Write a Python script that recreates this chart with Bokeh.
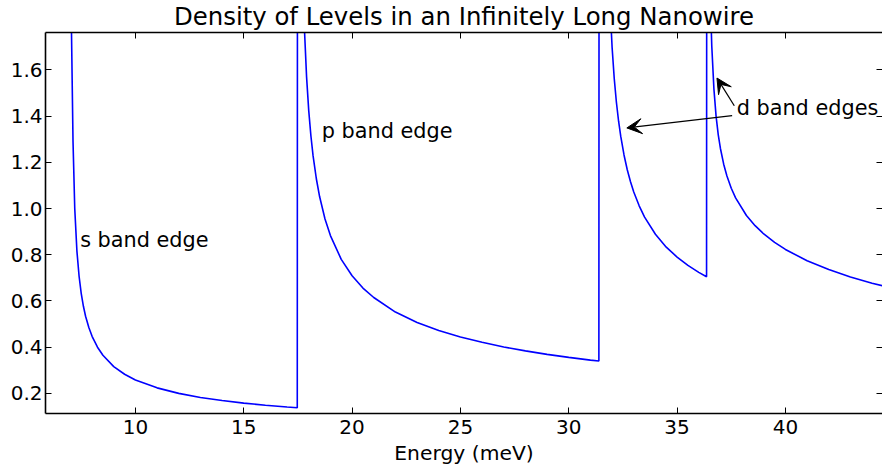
from bokeh.plotting import figure
from bokeh.models import Range1d, LinearAxis, FixedTicker, Label, Arrow, VeeHead, ColumnDataSource
from bokeh.embed import file_html
from bokeh.resources import INLINE

# ---- data ----
energy_mev = [
    7.00, 7.12, 7.20, 7.30, 7.40, 7.50, 7.60, 7.70, 7.85, 8.00, 8.25, 8.50, 9.00, 9.50,
    10.0, 11.0, 12.0, 13.0, 14.0, 15.0, 16.0, 17.0, 17.47,
    17.49, 17.70, 17.80, 17.90, 18.00, 18.10, 18.20, 18.35, 18.50, 18.75, 19.0, 19.5,
    20.0, 20.5, 21.0, 22.0, 23.0, 24.0, 25.0, 26.0, 27.0, 28.0, 29.0, 30.0, 31.0, 31.39,
    31.41, 31.85, 31.90, 32.00, 32.10, 32.20, 32.30, 32.40, 32.55, 32.70, 32.85, 33.00,
    33.25, 33.50, 34.0, 34.5, 35.0, 35.5, 36.0, 36.36,
    36.38, 36.50, 36.55, 36.60, 36.70, 36.80, 36.90, 37.00, 37.15, 37.30, 37.50, 37.70,
    38.2, 38.6, 39.0, 39.5, 40.0, 41.0, 42.0, 43.0, 44.0, 44.6,
]
density = [
    2.10, 1.29, 1.00, 0.816, 0.707, 0.632, 0.577, 0.534, 0.485, 0.447, 0.400, 0.365, 0.316, 0.283,
    0.258, 0.224, 0.200, 0.182, 0.169, 0.158, 0.149, 0.141, 0.138,
    5.00, 2.118, 1.778, 1.569, 1.423, 1.314, 1.228, 1.129, 1.052, 0.955, 0.883, 0.780,
    0.709, 0.656, 0.615, 0.552, 0.507, 0.472, 0.444, 0.421, 0.401, 0.384, 0.369, 0.356, 0.344, 0.340,
    5.00, 2.026, 1.892, 1.698, 1.562, 1.459, 1.378, 1.312, 1.232, 1.168, 1.116, 1.072,
    1.012, 0.963, 0.889, 0.833, 0.790, 0.754, 0.724, 0.705,
    5.00, 2.126, 1.862, 1.705, 1.517, 1.399, 1.319, 1.260, 1.192, 1.141, 1.088, 1.046,
    0.970, 0.926, 0.890, 0.854, 0.823, 0.774, 0.736, 0.704, 0.677, 0.663,
]

x_ticks = [10, 15, 20, 25, 30, 35, 40]
x_tick_labels = ["10", "15", "20", "25", "30", "35", "40"]
y_ticks = [0.2, 0.4, 0.6, 0.8, 1.0, 1.2, 1.4, 1.6]
y_tick_labels = ["0.2", "0.4", "0.6", "0.8", "1.0", "1.2", "1.4", "1.6"]

title_text = "Density of Levels in an Infinitely Long Nanowire"
x_label = "Energy (meV)"

notes = ["s band edge", "p band edge", "d band edges"]
note_x = [7.45, 18.6, 37.75]
note_y = [0.865, 1.335, 1.437]

arrow_from = [(37.54, 1.402), (37.64, 1.445)]
arrow_to = [(32.68, 1.349), (36.84, 1.565)]

FONT = "DejaVu Sans"

p = figure(width=882, height=474, output_backend="svg", toolbar_location=None,
           x_range=Range1d(5.85, 44.48), y_range=Range1d(0.113, 1.762),
           x_axis_location=None, y_axis_location=None,
           min_border_left=45, min_border_right=0, min_border_top=32, min_border_bottom=61)
p.outline_line_color = None
p.grid.visible = False
p.background_fill_color = "white"
p.border_fill_color = "white"

p.title.text = title_text
p.title.text_font = FONT
p.title.text_font_size = "24.4px"
p.title.text_font_style = "normal"
p.title.text_color = "black"
p.title.align = "center"
p.title.vertical_align = "top"
p.title.standoff = 0

bottom_axis = LinearAxis()
left_axis = LinearAxis()
top_axis = LinearAxis()
right_axis = LinearAxis()
p.add_layout(bottom_axis, "below")
p.add_layout(left_axis, "left")
p.add_layout(top_axis, "above")
p.add_layout(right_axis, "right")

xt = dict(zip(x_ticks, x_tick_labels))
yt = dict(zip(y_ticks, y_tick_labels))

for ax in [bottom_axis, top_axis]:
    ax.ticker = FixedTicker(ticks=x_ticks)
    ax.major_label_overrides = xt
for ax in [left_axis, right_axis]:
    ax.ticker = FixedTicker(ticks=y_ticks)
    ax.major_label_overrides = yt

for ax in [bottom_axis, left_axis, top_axis, right_axis]:
    ax.major_tick_in = 6
    ax.major_tick_out = 0
    ax.minor_tick_in = 0
    ax.minor_tick_out = 0
    ax.major_tick_line_width = 1
    ax.major_tick_line_color = "black"
    ax.axis_line_color = "black"
    ax.axis_line_width = 1.6
    ax.major_label_text_font = FONT
    ax.major_label_text_font_size = "20px"
    ax.major_label_text_color = "black"

top_axis.major_label_overrides = {t: "" for t in x_ticks}
right_axis.major_label_overrides = {t: "" for t in y_ticks}
top_axis.major_label_standoff = 0
right_axis.major_label_standoff = 0
right_axis.axis_line_color = None

bottom_axis.major_label_standoff = 6
left_axis.major_label_standoff = 3
bottom_axis.axis_label = x_label
bottom_axis.axis_label_text_font = FONT
bottom_axis.axis_label_text_font_size = "20.3px"
bottom_axis.axis_label_text_font_style = "normal"
bottom_axis.axis_label_text_color = "black"
bottom_axis.axis_label_standoff = 4

src = ColumnDataSource(data=dict(energy=energy_mev, dos=density))
p.line("energy", "dos", source=src, line_color="#0000ff", line_width=1.6)

for t, x, y in zip(notes, note_x, note_y):
    p.add_layout(Label(x=x, y=y, text=t, text_font=FONT, text_font_size="20.8px",
                       text_align="left", text_baseline="alphabetic", text_color="black"))

for (xs, ys), (xe, ye) in zip(arrow_from, arrow_to):
    p.add_layout(Arrow(end=VeeHead(size=15, fill_color="black", line_color="black", line_width=1),
                       x_start=xs, y_start=ys, x_end=xe, y_end=ye,
                       line_color="black", line_width=1.3))

open("out.html", "w").write(file_html(p, INLINE))
